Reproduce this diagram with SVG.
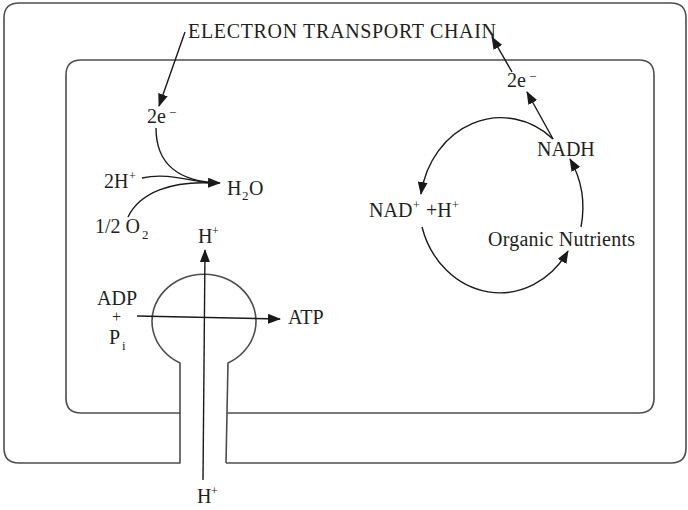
<svg xmlns="http://www.w3.org/2000/svg" width="688" height="510" viewBox="0 0 688 510">
<style>
.mem{fill:none;stroke:#4d4d4d;stroke-width:1.6;stroke-linejoin:round}
.con{fill:none;stroke:#1a1a1a;stroke-width:1.4}
text{font-family:"Liberation Serif","Times New Roman",serif;font-size:20px;fill:#231f20}
.sup{font-size:12px}
.sub{font-size:13px}
</style>
<defs>
<marker id="ah" viewBox="0 0 13 10" markerWidth="13" markerHeight="10" refX="12" refY="5" orient="auto" markerUnits="userSpaceOnUse">
<path d="M0,0 L13,5 L0,10 Z" fill="#1a1a1a"/>
</marker>
</defs>
<rect width="688" height="510" fill="#ffffff"/>
<g id="outer-membrane">
<path class="mem" d="M226,463 L671,463 Q686,463 686,448 L686,18 Q686,3 671,3 L19,3 Q4,3 4,18 L4,448 Q4,463 19,463 L180,463 L180,363 A52 47 0 1 1 228,363 L226,463"/>
</g>
<g id="inner-membrane">
<path class="mem" d="M180,413 L81,413 Q66,413 66,398 L66,75 Q66,60 81,60 L639,60 Q654,60 654,75 L654,398 Q654,413 639,413 L227,413"/>
</g>
<g id="connectors">
<path class="con" d="M185,32 L159,106" marker-end="url(#ah)"/>
<path class="con" d="M156,128 C156,165 180,182 220,183" marker-end="url(#ah)"/>
<path class="con" d="M142,178 C168,172 192,182 212,183"/>
<path class="con" d="M128,217 C140,192 172,181 212,183"/>
<path class="con" d="M203,480 L205,250" marker-end="url(#ah)"/>
<path class="con" d="M137,316 L280,319" marker-end="url(#ah)"/>
<path class="con" d="M553,139 L527,92" marker-end="url(#ah)"/>
<path class="con" d="M512,72 L492,37" marker-end="url(#ah)"/>
<path class="con" d="M553,139 A81 91 0 0 0 421,194" marker-end="url(#ah)"/>
<path class="con" d="M422,227 A81 91 0 0 0 568,251" marker-end="url(#ah)"/>
<path class="con" d="M581,227 A81 91 0 0 0 570,159" marker-end="url(#ah)"/>
</g>
<g id="etc"><text x="188" y="37.5" textLength="308" lengthAdjust="spacing">ELECTRON TRANSPORT CHAIN</text></g>
<g id="e-left"><text x="147" y="123">2e</text><text class="sub" x="169" y="117">−</text></g>
<g id="h-left"><text x="104" y="188">2H</text><text class="sup" x="129" y="180">+</text></g>
<g id="water"><text x="227" y="195">H</text><text class="sub" x="242" y="200">2</text><text x="249" y="195">O</text></g>
<g id="oxygen"><text x="95" y="233">1/2 O</text><text class="sub" x="142" y="239">2</text></g>
<g id="h-top"><text x="198" y="243">H</text><text class="sup" x="212" y="235">+</text></g>
<g id="adp"><text x="97" y="305">ADP</text><text x="112" y="322" style="font-size:16px">+</text><text x="109" y="344">P</text><text class="sub" x="122" y="350">i</text></g>
<g id="atp"><text x="288" y="324">ATP</text></g>
<g id="h-bottom"><text x="197" y="503">H</text><text class="sup" x="211" y="495">+</text></g>
<g id="e-right"><text x="507" y="87">2e</text><text class="sub" x="529" y="81">−</text></g>
<g id="nadh"><text x="537" y="156">NADH</text></g>
<g id="nad"><text x="369" y="217">NAD</text><text class="sup" x="413" y="209">+</text><text x="426" y="217">+H</text><text class="sup" x="452" y="209">+</text></g>
<g id="nutrients"><text x="488" y="246" textLength="147" lengthAdjust="spacing">Organic Nutrients</text></g>
</svg>
